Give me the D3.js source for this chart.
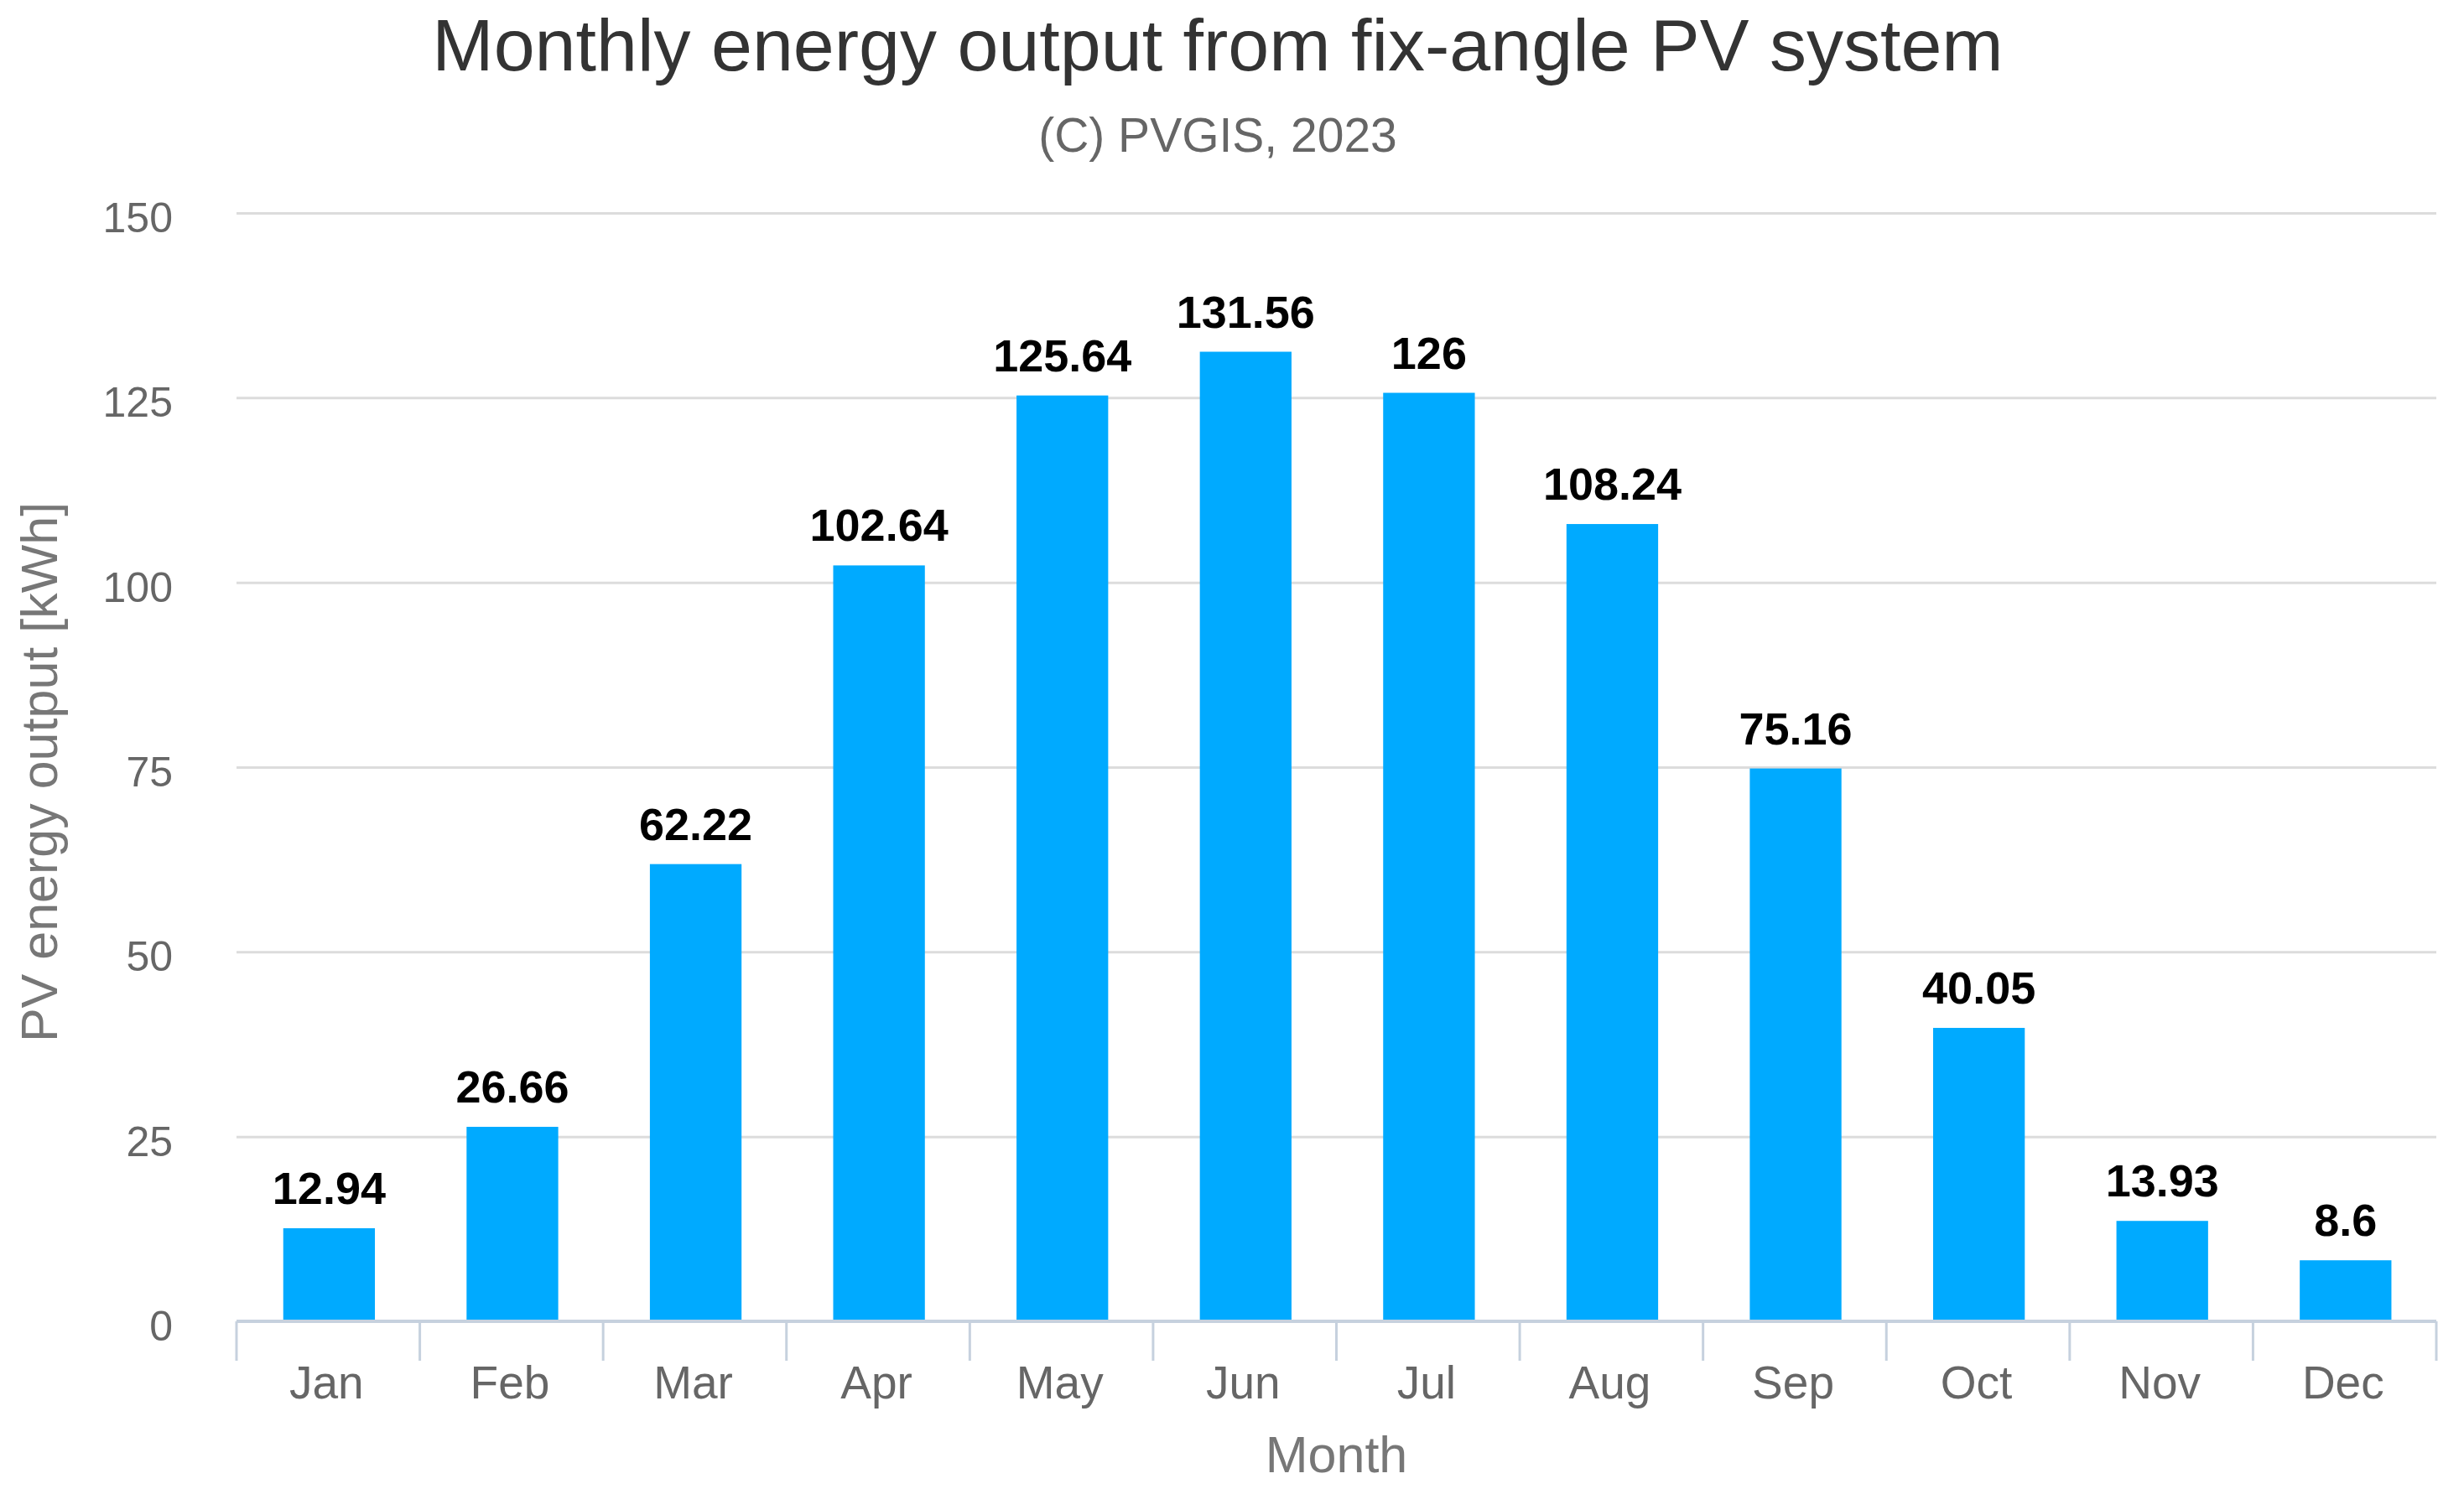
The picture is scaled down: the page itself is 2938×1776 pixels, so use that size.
<!DOCTYPE html>
<html>
<head>
<meta charset="utf-8">
<script src="https://cdn.jsdelivr.net/npm/d3@7"></script>
<style>
  body { margin: 0; background: #fff; }
  text { font-family: "Liberation Sans", Arial, sans-serif; }
</style>
</head>
<body>
<div id="chart"></div>
<script>
// chart data
const months = ['Jan', 'Feb', 'Mar', 'Apr', 'May', 'Jun', 'Jul', 'Aug', 'Sep', 'Oct', 'Nov', 'Dec'];
const output = [12.94, 26.66, 62.22, 102.64, 125.64, 131.56, 126, 108.24, 75.16, 40.05, 13.93, 8.6];
const yTicks = [0, 25, 50, 75, 100, 125, 150];

const title = 'Monthly energy output from fix-angle PV system';
const subtitle = '(C) PVGIS, 2023';
const xTitle = 'Month';
const yTitle = 'PV energy output [kWh]';

const width = 2938;
const height = 1776;
const margin = {left: 282, right: 33, top: 254, bottom: 200};
const plotW = width - margin.left - margin.right;
const plotH = height - margin.top - margin.bottom;

const svg = d3.select('#chart')
  .append('svg')
  .attr('width', width)
  .attr('height', height)
  .style('background', '#fff');

// scales
const x = d3.scaleBand()
  .domain(months)
  .range([0, plotW])
  .paddingInner(0.5)
  .paddingOuter(0.25)
  .align(0.51);

const y = d3.scaleLinear().domain([0, 150]).range([plotH, 0]);

const g = svg.append('g')
  .attr('transform', `translate(${margin.left},${margin.top})`);

// gridlines + y tick labels
const yAxis = g.append('g')
  .call(d3.axisLeft(y).tickValues(yTicks).tickSize(-plotW).tickPadding(76));
yAxis.select('.domain').remove();
yAxis.selectAll('.tick line')
  .attr('stroke', '#dcdcdc')
  .attr('stroke-width', 3)
  .attr('display', d => d === 0 ? 'none' : null);
yAxis.selectAll('.tick text')
  .attr('fill', '#666')
  .attr('dy', '0.45em')
  .style('font-size', '50px');

// bars
g.selectAll('rect.bar')
  .data(months)
  .join('rect')
  .attr('class', 'bar')
  .attr('x', d => x(d))
  .attr('width', x.bandwidth())
  .attr('y', (d, i) => y(output[i]) + 3)
  .attr('height', (d, i) => plotH - y(output[i]) - 3)
  .attr('fill', '#00aaff');

// value labels
g.selectAll('text.val')
  .data(months)
  .join('text')
  .attr('class', 'val')
  .attr('x', d => x(d) + x.bandwidth() / 2)
  .attr('y', (d, i) => y(output[i]) - 26)
  .attr('text-anchor', 'middle')
  .attr('fill', '#000')
  .style('font-size', '54px')
  .style('font-weight', 'bold')
  .text((d, i) => String(output[i]));

// x axis: baseline, category separators and labels
const xAxis = g.append('g').attr('transform', `translate(0,${plotH})`);
xAxis.append('line')
  .attr('x1', 0)
  .attr('x2', plotW)
  .attr('stroke', '#c6d1de')
  .attr('stroke-width', 4);

const seps = d3.range(months.length + 1);
xAxis.selectAll('line.sep')
  .data(seps)
  .join('line')
  .attr('class', 'sep')
  .attr('x1', i => i * x.step())
  .attr('x2', i => i * x.step())
  .attr('y1', 0)
  .attr('y2', 47)
  .attr('stroke', '#c6d1de')
  .attr('stroke-width', 3);

xAxis.selectAll('text.lbl')
  .data(months)
  .join('text')
  .attr('class', 'lbl')
  .attr('x', d => x(d) + x.bandwidth() / 2 - 3)
  .attr('y', 92)
  .attr('text-anchor', 'middle')
  .attr('fill', '#666')
  .style('font-size', '55px')
  .text(d => d);

// titles
svg.append('text')
  .attr('x', 1452)
  .attr('y', 84)
  .attr('text-anchor', 'middle')
  .attr('fill', '#333')
  .style('font-size', '88px')
  .text(title);

svg.append('text')
  .attr('x', 1452)
  .attr('y', 181)
  .attr('text-anchor', 'middle')
  .attr('fill', '#666')
  .style('font-size', '57px')
  .text(subtitle);

svg.append('text')
  .attr('x', margin.left + plotW / 2)
  .attr('y', 1756)
  .attr('text-anchor', 'middle')
  .attr('fill', '#777')
  .style('font-size', '61px')
  .text(xTitle);

svg.append('text')
  .attr('transform', `translate(68,${margin.top + plotH / 2 + 6}) rotate(-90)`)
  .attr('text-anchor', 'middle')
  .attr('fill', '#777')
  .style('font-size', '61px')
  .text(yTitle);
</script>
</body>
</html>
